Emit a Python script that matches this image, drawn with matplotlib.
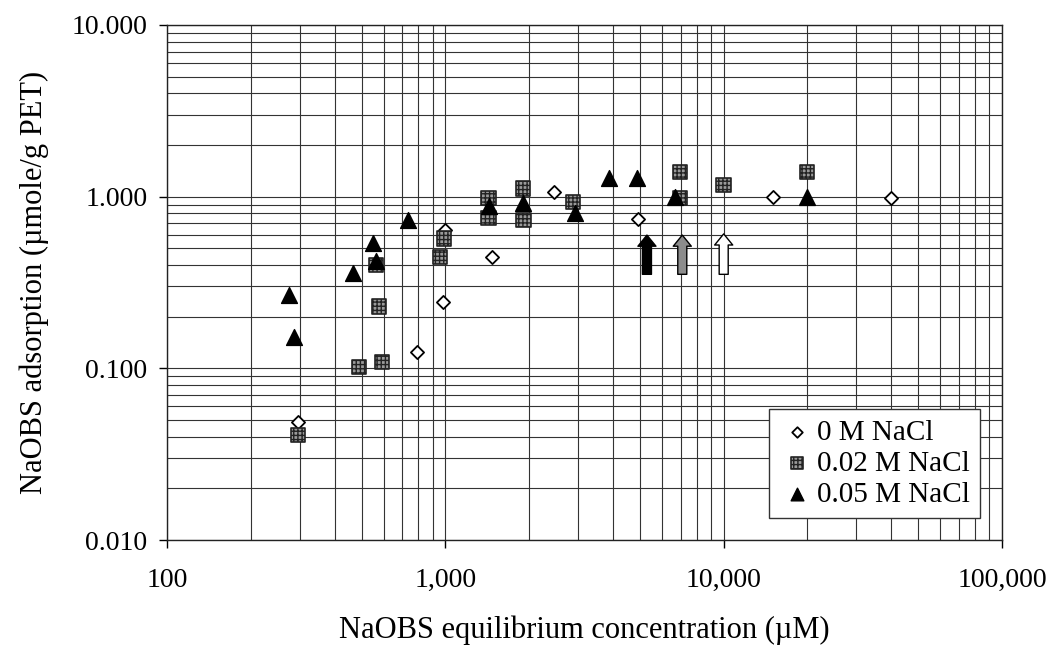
import matplotlib.pyplot as plt
from matplotlib.ticker import FixedLocator, FuncFormatter, NullFormatter
import numpy as np

plt.rcParams['font.family'] = ['Liberation Serif', 'DejaVu Serif']

# --- data
# 0 M NaCl (open diamonds)
nacl0_x = [296, 791, 981, 1000, 1472, 2450, 4920, 15000, 40000]
nacl0_y = [0.049, 0.125, 0.244, 0.64, 0.446, 1.06, 0.74, 1.00, 0.98]

# 0.02 M NaCl (grey hatched squares)
nacl02_x = [296, 490, 593, 578, 563, 957, 990, 1430, 1430, 1900, 1905, 2880, 6970, 6970, 10000, 19950]
nacl02_y = [0.041, 0.102, 0.109, 0.23, 0.40, 0.446, 0.57, 0.98, 0.75, 1.12, 0.73, 0.93, 1.39, 0.98, 1.17, 1.39]

# 0.05 M NaCl (black triangles)
nacl05_x = [274, 286, 466, 549, 563, 735, 1430, 1900, 2925, 3873, 4886, 6680, 20000]
nacl05_y = [0.268, 0.152, 0.36, 0.537, 0.42, 0.73, 0.88, 0.92, 0.80, 1.28, 1.28, 1.0, 1.0]

# arrows (one per salt level)
arrow_x = [5300, 7100, 10000]
arrow_lo = [0.34, 0.34, 0.34]
arrow_hi = [0.62, 0.62, 0.63]
arrow_fc = ['black', '#8c8c8c', 'white']

legend_labels = ['0 M NaCl', '0.02 M NaCl', '0.05 M NaCl']
x_ticks = [100, 1000, 10000, 100000]
y_ticks = [0.01, 0.1, 1, 10]

# --- plot
fig = plt.figure(figsize=(10.59, 6.51), dpi=100)
ax = fig.add_axes([0.1577, 0.1705, 0.7885, 0.7911])
ax.set_xscale('log')
ax.set_yscale('log')
ax.set_xlim(100, 100000)
ax.set_ylim(0.01, 10)

ax.grid(True, which='both', color='#333333', linewidth=0.8)
ax.set_axisbelow(True)
for s in ax.spines.values():
    s.set_color('#222222')
    s.set_linewidth(1.0)

for x, lo, hi, fc in zip(arrow_x, arrow_lo, arrow_hi, arrow_fc):
    ax.annotate('', xy=(x, hi), xytext=(x, lo),
                arrowprops=dict(arrowstyle='simple,head_length=0.8,head_width=1.3,tail_width=0.65',
                                fc=fc, ec='black', lw=1.0), zorder=3)

ax.scatter(nacl0_x, nacl0_y, marker='D', s=45, facecolor='white', edgecolor='black',
           linewidth=1.3, label=legend_labels[0], zorder=4)
ax.scatter(nacl02_x, nacl02_y, marker='s', s=110, facecolor='#9a9a9a', edgecolor='#222222',
           linewidth=1.2, hatch='++++', label=legend_labels[1], zorder=4)
ax.scatter(nacl05_x, nacl05_y, marker='^', s=130, facecolor='black', edgecolor='black',
           label=legend_labels[2], zorder=5)

ax.xaxis.set_major_locator(FixedLocator(x_ticks))
ax.yaxis.set_major_locator(FixedLocator(y_ticks))
ax.xaxis.set_major_formatter(FuncFormatter(lambda v, p: f'{v:,.0f}'))
ax.yaxis.set_major_formatter(FuncFormatter(lambda v, p: f'{v:.3f}'))
ax.xaxis.set_minor_formatter(NullFormatter())
ax.yaxis.set_minor_formatter(NullFormatter())
ax.tick_params(which='major', length=6, width=1, labelsize=20, direction='out', pad=14)
ax.tick_params(axis='y', pad=8)
ax.tick_params(which='minor', length=0)

ax.set_xlabel('NaOBS equilibrium concentration (\u00b5M)', fontsize=22, labelpad=16)
ax.set_ylabel('NaOBS adsorption (\u00b5mole/g PET)', fontsize=22, labelpad=16)

leg = ax.legend(loc='lower right', bbox_to_anchor=(0.974, 0.043), borderaxespad=0,
                fontsize=21, frameon=True, fancybox=False, edgecolor='#333333', framealpha=1,
                handletextpad=0.1, borderpad=0.35, labelspacing=0.15, handlelength=1.2,
                markerscale=0.8)
leg.get_frame().set_linewidth(1.0)

fig.savefig('out.png', dpi=100)
